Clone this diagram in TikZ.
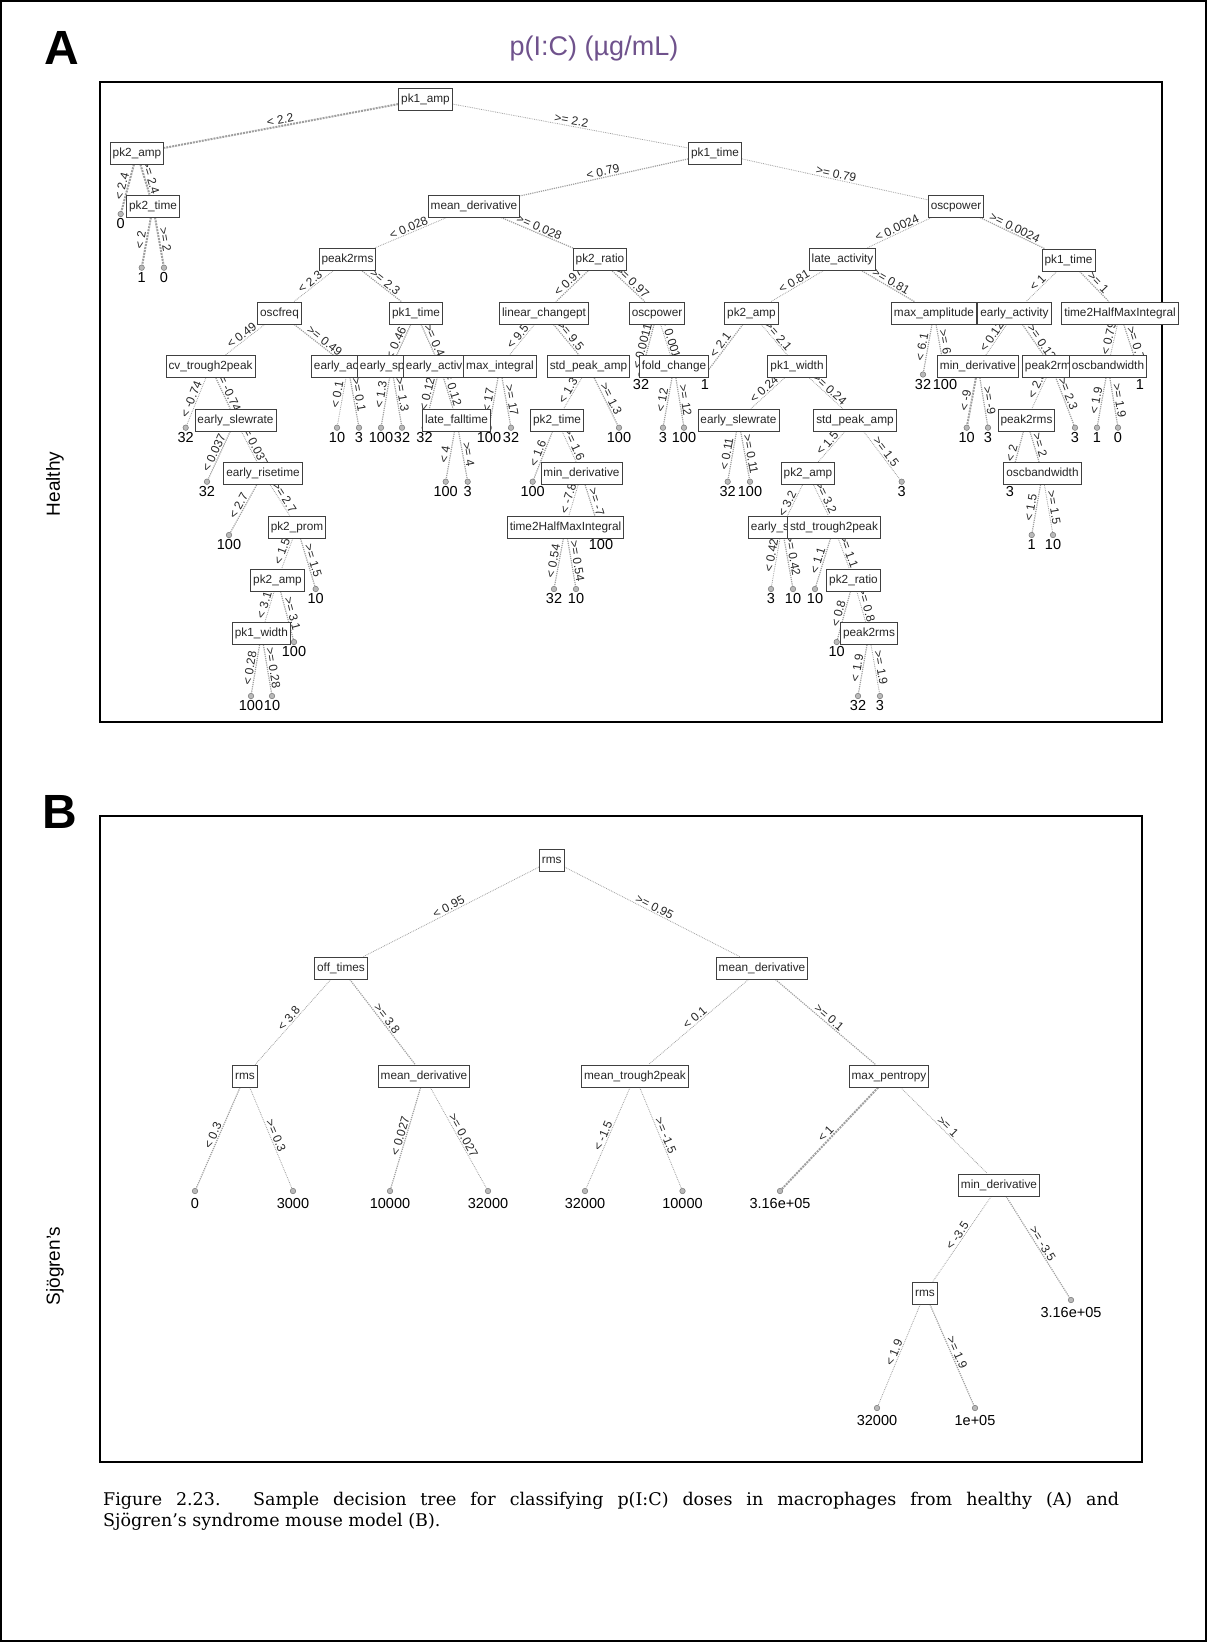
\documentclass[tikz,border=0pt]{standalone}
\usepackage{fontspec}
\setmainfont{Liberation Sans}
\newfontfamily\capfont{DejaVu Serif}
\usetikzlibrary{backgrounds}
\definecolor{titlepurple}{RGB}{111,82,140}
\newcommand{\boxfont}{\fontsize{11.8}{13}\selectfont}
\newcommand{\splitfont}{\fontsize{12}{13}\selectfont}
\newcommand{\leaffont}{\fontsize{14.5}{15}\selectfont}

\begin{document}
\begin{tikzpicture}[x=1pt, y=-1pt,
    box/.style={draw=black!75, fill=white, line width=0.9pt, font=\boxfont, text=black!85,
      inner xsep=2.5pt, inner ysep=0pt, minimum height=22pt, text height=8.6pt, text depth=2.4pt},
    leaf/.style={circle, draw=black!55, fill=gray!55, line width=0.5pt, inner sep=0pt, minimum size=5.5pt,
      label={[font=\leaffont, inner sep=0pt, label distance=1.5pt]below:#1}},
    leafB/.style={leaf, label={[font=\leaffont, inner sep=0pt, label distance=4.5pt]below:#1}},
    edge/.style={draw=gray!75, densely dotted},
    thinedge/.style={line width=0.8pt},
    midedge/.style={line width=1.2pt},
    fatedge/.style={line width=2pt},
    split/.style={sloped, above, font=\splitfont, text=black!85, inner sep=1pt},
    frame/.style={draw=black, line width=1.8pt}
  ]
  \useasboundingbox (0,0) rectangle (1207,1642);
  \draw[line width=1.2pt] (1,1) rectangle (1206,1641);

  % headings
  \node[font=\fontsize{48}{48}\selectfont\bfseries, inner sep=0pt] (labA) at (61.5,48) {A};
  \node[font=\fontsize{48}{48}\selectfont\bfseries, inner sep=0pt] (labB) at (60,812) {B};
  \node[font=\fontsize{27}{27}\selectfont, text=titlepurple] (title) at (594,49) {p(I:C) (µg/mL)};
  \node[font=\fontsize{19}{19}\selectfont, rotate=90] (healthy) at (55,484) {Healthy};
  \node[font=\fontsize{19}{19}\selectfont, rotate=90] (sjogren) at (55,1266) {Sjögren’s};

  % ---------- panel A: leaves ----------
  \foreach \nm/\x/\y/\val in {
    lA1/120.7/214/0, lA2/141.7/267.7/1, lA3/164/267.7/0, lA4/185.7/427.7/32,
    lA5/207/481.7/32, lA6/229/535/100, lA7/315.7/589/10, lA8/294/642/100,
    lA9/251/696/100, lA10/272/696/10, lA11/337/427.7/10, lA12/359/427.7/3,
    lA13/381/427.7/100, lA14/402/427.7/32, lA15/424.5/427.7/32, lA16/445.7/481.7/100,
    lA17/467.7/481.7/3, lA18/489/427.7/100, lA19/511/427.7/32, lA20/619/427.7/100,
    lA21/532.7/481.7/100, lA22/601/535/100, lA23/554/589/32, lA24/576/589/10,
    lA25/641/374.5/32, lA26/663/427.7/3, lA27/684/427.7/100, lA28/705/374.5/1,
    lA29/727.7/481.7/32, lA30/750/481.7/100, lA31/901.7/481.7/3, lA32/771/589/3,
    lA33/793/589/10, lA34/815/589/10, lA35/836.7/642/10, lA36/858/696/32,
    lA37/880/696/3, lA38/923/374.5/32, lA39/945/374.5/100, lA40/966.7/427.7/10,
    lA41/988/427.7/3, lA42/1075/427.7/3, lA43/1140/374.5/1, lA44/1097/427.7/1,
    lA45/1118/427.7/0, lA46/1010/481.7/3, lA47/1031.7/535/1, lA48/1053/535/10}
    \node[leaf=\val] (\nm) at (\x,\y) {};

  % ---------- panel A: splits ----------
  \node[box] (rootA) at (425.5,99) {pk1\_amp};
  \node[box] (pktwoamp) at (137,153) {pk2\_amp};
  \node[box] (pkonetime) at (715,153) {pk1\_time};
  \node[box] (pktwotime) at (153,206) {pk2\_time};
  \node[box] (meanderiv) at (474,206) {mean\_derivative};
  \node[box] (oscpower) at (956,206) {oscpower};
  \node[box] (ptrms) at (347.5,259.5) {peak2rms};
  \node[box] (pkratio) at (600,259.5) {pk2\_ratio};
  \node[box] (lateact) at (842.5,259.5) {late\_activity};
  \node[box] (pktimeR) at (1068.5,260) {pk1\_time};
  \node[box] (oscfreq) at (279.5,313) {oscfreq};
  \node[box] (pktimeL) at (416,313) {pk1\_time};
  \node[box] (linchg) at (544,313) {linear\_changept};
  \node[box] (oscpowerM) at (657,313) {oscpower};
  \node[box] (pkampM) at (751.5,313) {pk2\_amp};
  \node[box] (maxamp) at (934,313) {max\_amplitude};
  \node[box] (earlyact) at (1014.5,313) {early\_activity};
  \node[box] (thalfR) at (1120,313) {time2HalfMaxIntegral};
  \node[box] (cvtrough) at (210.5,366.5) {cv\_trough2peak};
  \node[box, anchor=west] (earlyac) at (311,366.5) {early\_ac};
  \node[box, anchor=west] (earlysp) at (357,366.5) {early\_sp};
  \node[box, anchor=west] (earlyactL) at (403,366.5) {early\_activ};
  \node[box] (maxint) at (500,366.5) {max\_integral};
  \node[box] (stdpeakM) at (588.5,366.5) {std\_peak\_amp};
  \node[box] (foldchg) at (674,366.5) {fold\_change};
  \node[box] (pkwidthR) at (797,366.5) {pk1\_width};
  \node[box] (minderR) at (978,366.5) {min\_derivative};
  \node[box, anchor=west] (ptrmsR) at (1022,366.5) {peak2rm};
  \node[box] (oscbwR) at (1108,366.5) {oscbandwidth};
  \node[box] (slewL) at (235.5,420) {early\_slewrate};
  \node[box] (latefall) at (456.5,420) {late\_falltime};
  \node[box] (pktimeM) at (557,420) {pk2\_time};
  \node[box] (slewR) at (738.5,420) {early\_slewrate};
  \node[box] (stdpeakR) at (855,420) {std\_peak\_amp};
  \node[box] (ptrmsL2) at (1026.5,420) {peak2rms};
  \node[box] (risetime) at (263,473.5) {early\_risetime};
  \node[box] (minderM) at (581.5,473.5) {min\_derivative};
  \node[box] (pkampR) at (808,473.5) {pk2\_amp};
  \node[box] (oscbwL) at (1042.5,473.5) {oscbandwidth};
  \node[box] (pkprom) at (297,527) {pk2\_prom};
  \node[box] (thalfM) at (565.5,527) {time2HalfMaxIntegral};
  \node[box, anchor=west] (earlys) at (748,527) {early\_s};
  \node[box] (stdtrough) at (834,527) {std\_trough2peak};
  \node[box] (pkampL) at (277.5,580) {pk2\_amp};
  \node[box] (pkratioR) at (853.5,580) {pk2\_ratio};
  \node[box] (pkwidthL) at (261.5,633.5) {pk1\_width};
  \node[box] (ptrmsB) at (869,633.5) {peak2rms};
  % branch points of the covered boxes
  \coordinate (earlyacC) at (348,366.5);
  \coordinate (earlyspC) at (391.5,366.5);
  \coordinate (earlyactLC) at (440,366.5);
  \coordinate (ptrmsRC) at (1051.5,366.5);
  \coordinate (earlysC) at (782,527);

  % ---------- panel B ----------
  \foreach \nm/\x/\y/\val in {
    lB1/195/1191/0, lB2/293/1191/3000, lB3/390/1191/10000, lB4/488/1191/32000,
    lB5/585/1191/32000, lB6/682.5/1191/10000, lB7/780/1191/3.16e+05,
    lB8/1071/1300/3.16e+05, lB9/877/1408/32000, lB10/975/1408/1e+05}
    \node[leafB=\val] (\nm) at (\x,\y) {};

  \node[box] (rootB) at (551.7,860.5) {rms};
  \node[box] (offt) at (341,968) {off\_times};
  \node[box] (meandB) at (762,968) {mean\_derivative};
  \node[box] (rmsL) at (245,1076) {rms};
  \node[box] (meandL) at (424,1076) {mean\_derivative};
  \node[box] (mtrough) at (635,1076) {mean\_trough2peak};
  \node[box] (maxpent) at (889,1076) {max\_pentropy};
  \node[box] (minderB) at (999,1185) {min\_derivative};
  \node[box] (rmsB) at (925,1293) {rms};

  % frames and branches
  \begin{scope}[on background layer]
    \draw[frame] (100,82) rectangle (1162,722);
    \draw[frame] (100,816) rectangle (1142,1462);
    \foreach \src/\dst/\cond/\ew in {
      rootA/pktwoamp/{< 2.2}/fatedge, rootA/pkonetime/{>= 2.2}/thinedge,
      pktwoamp/lA1/{< 2.4}/fatedge, pktwoamp/pktwotime/{>= 2.4}/fatedge,
      pktwotime/lA2/{< 2}/fatedge, pktwotime/lA3/{>= 2}/fatedge,
      pkonetime/meanderiv/{< 0.79}/midedge, pkonetime/oscpower/{>= 0.79}/thinedge,
      meanderiv/ptrms/{< 0.028}/thinedge, meanderiv/pkratio/{>= 0.028}/midedge,
      oscpower/lateact/{< 0.0024}/thinedge, oscpower/pktimeR/{>= 0.0024}/midedge,
      ptrms/oscfreq/{< 2.3}/thinedge, ptrms/pktimeL/{>= 2.3}/midedge,
      pkratio/linchg/{< 0.97}/midedge, pkratio/oscpowerM/{>= 0.97}/midedge,
      lateact/pkampM/{< 0.81}/thinedge, lateact/maxamp/{>= 0.81}/midedge,
      pktimeR/earlyact/{< 1}/thinedge, pktimeR/thalfR/{>= 1}/midedge,
      oscfreq/cvtrough/{< 0.49}/thinedge, oscfreq/earlyacC/{>= 0.49}/midedge,
      pktimeL/earlyspC/{< 0.46}/midedge, pktimeL/earlyactLC/{>= 0.46}/midedge,
      linchg/maxint/{< 9.5}/thinedge, linchg/stdpeakM/{>= 9.5}/midedge,
      oscpowerM/lA25/{< 0.0011}/midedge, oscpowerM/foldchg/{>= 0.0011}/thinedge,
      pkampM/lA28/{< 2.1}/midedge, pkampM/pkwidthR/{>= 2.1}/thinedge,
      maxamp/lA38/{< 6.1}/midedge, maxamp/lA39/{>= 6.1}/midedge,
      earlyact/minderR/{< 0.12}/thinedge, earlyact/ptrmsRC/{>= 0.12}/midedge,
      thalfR/oscbwR/{< 0.79}/thinedge, thalfR/lA43/{>= 0.79}/midedge,
      cvtrough/lA4/{< -0.74}/thinedge, cvtrough/slewL/{>= -0.74}/midedge,
      earlyacC/lA11/{< 0.1}/thinedge, earlyacC/lA12/{>= 0.1}/midedge,
      earlyspC/lA13/{< 1.3}/midedge, earlyspC/lA14/{>= 1.3}/midedge,
      earlyactLC/lA15/{< 0.12}/midedge, earlyactLC/latefall/{>= 0.12}/midedge,
      maxint/lA18/{< 17}/midedge, maxint/lA19/{>= 17}/midedge,
      stdpeakM/pktimeM/{< 1.3}/thinedge, stdpeakM/lA20/{>= 1.3}/midedge,
      foldchg/lA26/{< 12}/midedge, foldchg/lA27/{>= 12}/midedge,
      pkwidthR/slewR/{< 0.24}/thinedge, pkwidthR/stdpeakR/{>= 0.24}/thinedge,
      minderR/lA40/{< -9}/fatedge, minderR/lA41/{>= -9}/midedge,
      ptrmsRC/ptrmsL2/{< 2.3}/thinedge, ptrmsRC/lA42/{>= 2.3}/midedge,
      oscbwR/lA44/{< 1.9}/midedge, oscbwR/lA45/{>= 1.9}/midedge,
      slewL/lA5/{< 0.037}/midedge, slewL/risetime/{>= 0.037}/thinedge,
      latefall/lA16/{< 4}/midedge, latefall/lA17/{>= 4}/midedge,
      pktimeM/lA21/{< 1.6}/midedge, pktimeM/minderM/{>= 1.6}/thinedge,
      slewR/lA29/{< 0.11}/midedge, slewR/lA30/{>= 0.11}/midedge,
      stdpeakR/pkampR/{< 1.5}/thinedge, stdpeakR/lA31/{>= 1.5}/thinedge,
      ptrmsL2/lA46/{< 2}/midedge, ptrmsL2/oscbwL/{>= 2}/midedge,
      risetime/lA6/{< 2.7}/midedge, risetime/pkprom/{>= 2.7}/thinedge,
      minderM/thalfM/{< -7.8}/thinedge, minderM/lA22/{>= -7.8}/midedge,
      pkampR/earlysC/{< 3.2}/thinedge, pkampR/stdtrough/{>= 3.2}/thinedge,
      oscbwL/lA47/{< 1.5}/midedge, oscbwL/lA48/{>= 1.5}/thinedge,
      pkprom/pkampL/{< 1.5}/thinedge, pkprom/lA7/{>= 1.5}/midedge,
      thalfM/lA23/{< 0.54}/midedge, thalfM/lA24/{>= 0.54}/midedge,
      earlysC/lA32/{< 0.42}/thinedge, earlysC/lA33/{>= 0.42}/midedge,
      stdtrough/lA34/{< 1.1}/midedge, stdtrough/pkratioR/{>= 1.1}/thinedge,
      pkampL/pkwidthL/{< 3.1}/thinedge, pkampL/lA8/{>= 3.1}/midedge,
      pkratioR/lA35/{< 0.8}/midedge, pkratioR/ptrmsB/{>= 0.8}/thinedge,
      pkwidthL/lA9/{< 0.28}/midedge, pkwidthL/lA10/{>= 0.28}/midedge,
      ptrmsB/lA36/{< 1.9}/midedge, ptrmsB/lA37/{>= 1.9}/thinedge,
      rootB/offt/{< 0.95}/thinedge, rootB/meandB/{>= 0.95}/thinedge,
      offt/rmsL/{< 3.8}/thinedge, offt/meandL/{>= 3.8}/midedge,
      rmsL/lB1/{< 0.3}/midedge, rmsL/lB2/{>= 0.3}/thinedge,
      meandL/lB3/{< 0.027}/midedge, meandL/lB4/{>= 0.027}/thinedge,
      meandB/mtrough/{< 0.1}/thinedge, meandB/maxpent/{>= 0.1}/midedge,
      mtrough/lB5/{< -1.5}/thinedge, mtrough/lB6/{>= -1.5}/thinedge,
      maxpent/lB7/{< 1}/fatedge, maxpent/minderB/{>= 1}/thinedge,
      minderB/rmsB/{< -3.5}/thinedge, minderB/lB8/{>= -3.5}/midedge,
      rmsB/lB9/{< 1.9}/thinedge, rmsB/lB10/{>= 1.9}/midedge}
      \draw[edge, \ew] (\src) -- node[split] {\cond} (\dst);
  \end{scope}

  % caption (first line justified)
  \node[anchor=north west, inner sep=0pt, align=left, font=\capfont\fontsize{17.5}{21}\selectfont] (caption) at (103,1492)
    {\makebox[1016pt][s]{Figure 2.23. Sample decision tree for classifying p(I:C) doses in macrophages from healthy (A) and}\\
     Sjögren’s syndrome mouse model (B).};
\end{tikzpicture}
\end{document}
